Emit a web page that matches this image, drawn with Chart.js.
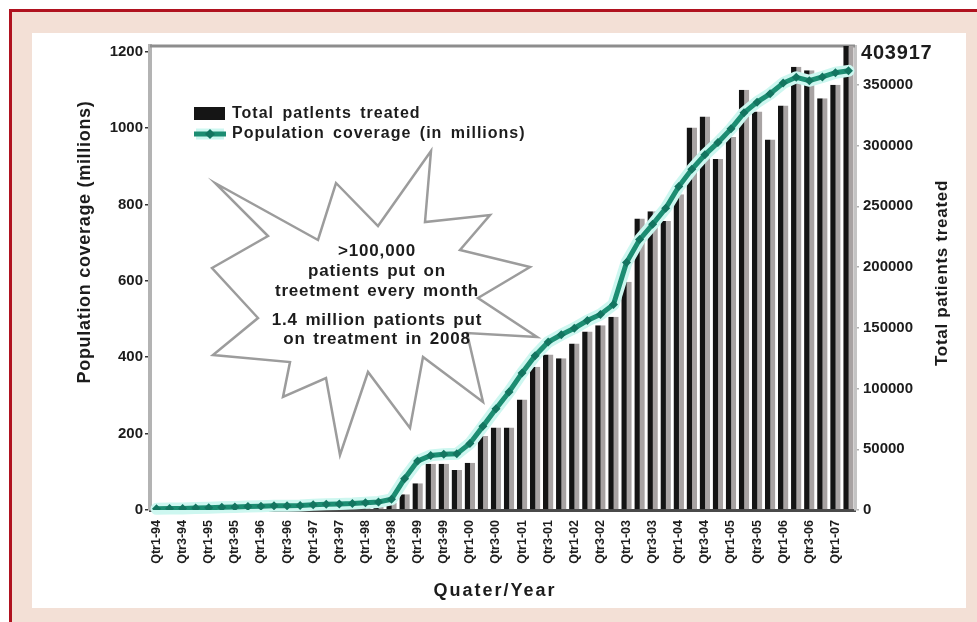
<!DOCTYPE html>
<html>
<head>
<meta charset="utf-8">
<script src="https://cdn.jsdelivr.net/npm/chart.js@4/dist/chart.umd.min.js"></script>
<style>
  html, body { margin: 0; padding: 0; background: #ffffff; }
  #wrap { width: 977px; height: 622px; position: relative; }
  canvas { display: block; }
</style>
</head>
<body>
<div id="wrap"><canvas id="chart" width="977" height="622"></canvas></div>
<script>
// Quarterly categories, Qtr1-94 .. Qtr2-07
const quarters = [
  'Qtr1-94','Qtr2-94','Qtr3-94','Qtr4-94','Qtr1-95','Qtr2-95','Qtr3-95','Qtr4-95',
  'Qtr1-96','Qtr2-96','Qtr3-96','Qtr4-96','Qtr1-97','Qtr2-97','Qtr3-97','Qtr4-97',
  'Qtr1-98','Qtr2-98','Qtr3-98','Qtr4-98','Qtr1-99','Qtr2-99','Qtr3-99','Qtr4-99',
  'Qtr1-00','Qtr2-00','Qtr3-00','Qtr4-00','Qtr1-01','Qtr2-01','Qtr3-01','Qtr4-01',
  'Qtr1-02','Qtr2-02','Qtr3-02','Qtr4-02','Qtr1-03','Qtr2-03','Qtr3-03','Qtr4-03',
  'Qtr1-04','Qtr2-04','Qtr3-04','Qtr4-04','Qtr1-05','Qtr2-05','Qtr3-05','Qtr4-05',
  'Qtr1-06','Qtr2-06','Qtr3-06','Qtr4-06','Qtr1-07','Qtr2-07'
];

// Patients put on treatment in each quarter
const patientsTreated = [
  300, 400, 400, 500, 600, 600, 700, 800, 800, 900, 1000, 1100, 1200, 1300, 1500, 1700,
  2000, 2600, 6000, 13000, 22000, 38000, 38000, 33000, 39000, 61000, 68000, 68000,
  91000, 118000, 128000, 125000, 137000, 147000, 152000, 159000, 188000, 240000,
  246000, 238000, 260000, 315000, 324000, 289000, 307000, 346000, 328000, 305000,
  333000, 365000, 362000, 339000, 350000, 403917
];

// Population covered by the programme, millions
const populationCoverage = [
  3, 4, 4, 5, 6, 7, 8, 9, 10, 11, 11, 12, 14, 15, 16, 17, 19, 21, 28,
  82, 128, 143, 146, 147, 174, 219, 265, 309, 359, 404, 440, 459, 476, 496, 512, 538,
  648, 708, 748, 790, 847, 892, 930, 962, 998, 1040, 1068, 1090, 1118, 1133, 1124,
  1134, 1145, 1150
];

const coverageTicks = [0, 200, 400, 600, 800, 1000, 1200];
const patientTicks = [0, 50000, 100000, 150000, 200000, 250000, 300000, 350000];

const FONT = "'Liberation Sans', Arial, Helvetica, sans-serif";
const INK = '#1c1c1c';
const TEAL = '#1c8d72';
const TEAL_DARK = '#137560';
const HALO = '#cdf7f0';

// callout burst outline
const BURST = [
  [215,183],[318,240],[336,183],[378,226],[431,151],[425,222],[490,215],[460,250],
  [530,267],[478,298],[537,337],[467,333],[483,402],[423,357],[410,428],[368,372],
  [340,455],[326,378],[283,397],[290,362],[213,355],[258,318],[212,268],[268,236]
];
const BURST_TEXT = [
  ['>100,000', 251], ['patients put on', 271], ['treetment every month', 291],
  ['1.4 million pationts put', 320], ['on treatment in 2008', 339]
];

function drawText(c, s, x, y, size, o = {}) {
  c.save();
  c.font = `bold ${size}px ${FONT}`;
  c.fillStyle = o.color || INK;
  c.textAlign = o.align || 'left';
  c.textBaseline = 'middle';
  c.letterSpacing = (o.ls || 0) + 'px';
  c.wordSpacing = (o.ws || 0) + 'px';
  if (o.rot) {
    c.translate(x, y);
    c.rotate(o.rot);
    c.fillText(s, 0, 0);
  } else {
    c.fillText(s, x, y);
  }
  c.restore();
}

const decor = {
  id: 'decor',
  beforeDraw(chart) {
    const c = chart.ctx;
    c.save();
    c.fillStyle = '#ffffff';
    c.fillRect(0, 0, 977, 622);
    c.fillStyle = '#f3e0d6';
    c.fillRect(12, 12, 965, 610);
    c.fillStyle = '#b0121f';
    c.fillRect(9, 9, 968, 3);
    c.fillRect(9, 9, 3, 613);
    c.fillStyle = '#ffffff';
    c.fillRect(32, 33, 934, 575);
    c.restore();
  },
  beforeDatasetsDraw(chart) {
    const c = chart.ctx, a = chart.chartArea;
    c.save();
    // top frame of the plot
    c.strokeStyle = '#8d8d8d';
    c.lineWidth = 3;
    c.beginPath();
    c.moveTo(a.left, a.top);
    c.lineTo(a.right, a.top);
    c.stroke();
    // callout burst
    c.beginPath();
    BURST.forEach(([x, y], i) => (i ? c.lineTo(x, y) : c.moveTo(x, y)));
    c.closePath();
    c.fillStyle = '#ffffff';
    c.fill();
    c.strokeStyle = '#9c9c9c';
    c.lineWidth = 2.5;
    c.lineJoin = 'miter';
    c.stroke();
    c.restore();
    BURST_TEXT.forEach(([s, y]) => drawText(c, s, 377, y, 17, { align: 'center', ls: 0.8, ws: 2 }));
  },
  beforeDatasetDraw(chart, args) {
    if (args.meta.type !== 'line') return;
    // pale glow under the coverage line
    const c = chart.ctx, pts = args.meta.data;
    c.save();
    c.strokeStyle = HALO;
    c.lineWidth = 12;
    c.lineJoin = 'round';
    c.lineCap = 'round';
    c.beginPath();
    pts.forEach((p, i) => (i ? c.lineTo(p.x, p.y) : c.moveTo(p.x, p.y)));
    c.stroke();
    c.restore();
  },
  afterDraw(chart) {
    const c = chart.ctx;
    const ds = chart.data.datasets;
    // axis titles
    drawText(c, 'Population coverage (millions)', 85, 242, 18, { align: 'center', rot: -Math.PI / 2, ls: 0.7 });
    drawText(c, 'Total patients treated', 942, 273, 17, { align: 'center', rot: -Math.PI / 2, ls: 0.7 });
    drawText(c, 'Quater/Year', 495, 591, 18, { align: 'center', ls: 2 });
    // value of the last bar, shown at the top of the secondary axis
    const last = patientsTreated[patientsTreated.length - 1];
    drawText(c, String(last), 861, 53, 20, { ls: 0.8 });
    // legend
    const bars = ds.find(d => d.type === 'bar');
    const line = ds.find(d => d.type === 'line');
    c.save();
    c.fillStyle = '#151515';
    c.fillRect(194, 107, 31, 13);
    c.strokeStyle = HALO; c.lineWidth = 11;
    c.beginPath(); c.moveTo(196, 134); c.lineTo(224, 134); c.stroke();
    c.strokeStyle = TEAL; c.lineWidth = 5;
    c.beginPath(); c.moveTo(194, 134); c.lineTo(226, 134); c.stroke();
    c.fillStyle = TEAL_DARK;
    c.beginPath(); c.moveTo(210, 129); c.lineTo(215, 134); c.lineTo(210, 139); c.lineTo(205, 134); c.closePath(); c.fill();
    c.restore();
    drawText(c, bars.label, 232, 114, 16, { ls: 1, ws: 3 });
    drawText(c, line.label, 232, 134, 16, { ls: 1, ws: 3 });
  }
};

new Chart(document.getElementById('chart'), {
  type: 'bar',
  data: {
    labels: quarters,
    datasets: [
      {
        type: 'line',
        label: 'Population coverage (in millions)',
        data: populationCoverage,
        yAxisID: 'yL',
        borderColor: TEAL,
        backgroundColor: TEAL_DARK,
        borderWidth: 5,
        pointStyle: 'rectRot',
        pointRadius: 4.5,
        pointBorderWidth: 0,
        tension: 0,
        order: 0
      },
      {
        type: 'bar',
        label: 'Total patlents treated',
        data: patientsTreated,
        yAxisID: 'yR',
        backgroundColor: '#141414',
        borderColor: '#a8a3a3',
        borderWidth: { top: 0, left: 0, bottom: 0, right: 5 },
        barPercentage: 0.8,
        categoryPercentage: 1,
        clip: 0,
        order: 1
      }
    ]
  },
  options: {
    responsive: false,
    animation: false,
    layout: { padding: { left: 40, right: 20, top: 46, bottom: 14 } },
    plugins: { legend: { display: false }, tooltip: { enabled: false } },
    scales: {
      x: {
        offset: true,
        grid: { display: false },
        border: { display: true, color: '#4a4a4a', width: 3 },
        ticks: {
          autoSkip: false,
          minRotation: 90,
          maxRotation: 90,
          padding: 2,
          color: INK,
          font: { family: FONT, size: 12.5, weight: 'bold' },
          callback: function (v, i) { return i % 2 === 0 ? this.getLabelForValue(v) : ''; }
        },
        afterFit: s => { s.height = 98; }
      },
      yL: {
        position: 'left',
        min: 0,
        max: 1215,
        afterBuildTicks: s => { s.ticks = coverageTicks.map(v => ({ value: v })); },
        grid: { drawOnChartArea: false, drawTicks: true, tickLength: 5, color: '#333333', lineWidth: 1.5 },
        border: { display: true, color: '#b3b3b3', width: 4 },
        ticks: { padding: 2, color: INK, font: { family: FONT, size: 15, weight: 'bold' }, callback: v => String(v) },
        afterFit: s => { s.width = 110; }
      },
      yR: {
        position: 'right',
        min: 0,
        max: 382000,
        afterBuildTicks: s => { s.ticks = patientTicks.map(v => ({ value: v })); },
        grid: { drawOnChartArea: false, drawTicks: true, tickLength: 4, color: '#b0b0b0', lineWidth: 1.5 },
        border: { display: true, color: '#c4c4c4', width: 3 },
        ticks: { padding: 4, color: INK, font: { family: FONT, size: 15, weight: 'bold' }, callback: v => String(v) },
        afterFit: s => { s.width = 102; }
      }
    }
  },
  plugins: [decor]
});
</script>
</body>
</html>
